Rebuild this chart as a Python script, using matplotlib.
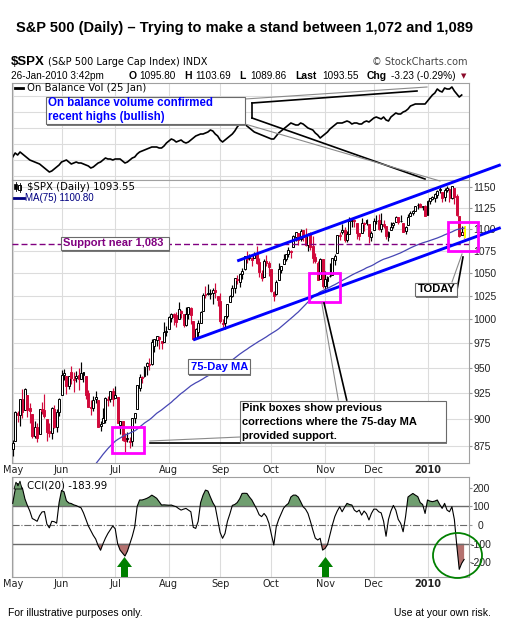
import numpy as np
import pandas as pd
import matplotlib
matplotlib.use("Agg")
import matplotlib.pyplot as plt
from matplotlib.patches import Rectangle, Ellipse, Polygon
from matplotlib.ticker import FixedLocator, NullLocator, NullFormatter

plt.rcParams['font.family'] = ['Liberation Sans', 'DejaVu Sans']

W, H = 506, 631

# ---------------------------------------------------------------- data
holidays = ['2009-05-25', '2009-07-03', '2009-09-07', '2009-11-26',
            '2009-12-25', '2010-01-01', '2010-01-18']
dates = pd.bdate_range('2009-05-01', '2010-01-26')
dates = dates[~dates.isin(pd.to_datetime(holidays))]

# closes Feb-Apr 2009 (only used to seed the 75-day moving average)
pre_closes = [825.44, 838.51, 832.23, 845.85, 868.60, 869.89, 827.16, 833.74, 835.19, 826.84,
              789.17, 788.42, 778.94, 770.05, 743.33, 773.14, 764.90, 752.83, 735.09,
              700.82, 696.33, 712.87, 682.55, 683.38, 676.53, 719.60, 721.36, 750.74, 756.55,
              753.89, 778.12, 794.35, 784.04, 768.54, 822.92, 806.12, 813.88, 832.86, 815.94,
              787.53, 797.87,
              811.08, 834.38, 842.50, 835.48, 815.55, 825.16, 856.56, 858.73, 841.50, 852.06,
              865.30, 869.60, 832.39, 850.08, 843.55, 851.92, 866.23, 857.51, 855.16, 873.64,
              872.81]

opens = [
    872.7, 879.2, 906.1, 903.8, 919.6, 909.0, 922.9, 910.5, 905.4, 884.2, 892.8, 886.1, 909.7, 908.6, 900.4, 888.7, 887.0, 909.9, 892.9, 907.0,
    923.3, 942.9, 942.5, 932.5, 945.7, 938.1, 940.4, 942.7, 939.0, 943.4, 942.5, 925.6, 911.9, 910.9, 919.9, 918.1, 893.5, 896.3, 899.5, 918.8, 919.9, 927.2,
    920.8, 921.2, 894.3, 898.6, 881.9, 881.3, 880.0, 879.6, 900.8, 910.2, 930.2, 940.6, 942.1, 952.0, 953.4, 954.1, 972.2, 978.6, 981.5, 977.7, 976.0, 986.8,
    990.2, 1001.4, 1005.4, 1004.1, 999.8, 1008.9, 1005.8, 994.0, 1005.9, 1012.2, 998.2, 980.6, 986.9, 996.4, 1009.1, 1026.6, 1026.6, 1027.4, 1027.8, 1031.6, 1025.2,
    1019.5, 996.1, 996.1, 1003.8, 1018.7, 1025.4, 1033.0, 1043.9, 1040.2, 1049.0, 1054.0, 1067.9, 1066.6, 1067.1, 1066.4, 1072.7, 1062.6, 1049.5, 1045.4, 1063.7, 1061.0,
    1054.9, 1029.7, 1026.9, 1042.0, 1053.7, 1060.0, 1065.3, 1071.6, 1075.0, 1078.7, 1090.4, 1094.7, 1088.2, 1098.6, 1090.4, 1081.0, 1095.6, 1080.4, 1067.5, 1061.5, 1043.0, 1065.4,
    1036.2, 1040.9, 1047.1, 1047.3, 1065.0, 1072.3, 1091.9, 1096.0, 1098.3, 1087.6, 1094.1, 1109.2, 1109.4, 1106.4, 1094.7, 1094.9, 1105.8, 1106.5, 1105.5, 1091.1,
    1098.9, 1109.0, 1110.6, 1100.4, 1105.5, 1103.0, 1091.1, 1098.7, 1104.0, 1107.8, 1114.1, 1108.6, 1106.4, 1097.9, 1105.0, 1114.5, 1118.8, 1121.1, 1127.5, 1128.6, 1125.5, 1126.6,
    1116.6, 1132.7, 1135.7, 1136.3, 1140.5, 1146.0, 1143.8, 1137.3, 1145.7, 1147.7, 1136.0, 1148.0, 1138.7, 1115.5, 1092.4, 1095.80]
highs = [
    880.5, 907.9, 907.7, 919.8, 929.6, 930.2, 922.9, 915.6, 905.4, 898.4, 896.7, 910.0, 916.4, 924.6, 900.4, 896.7, 911.8, 913.8, 909.5, 920.0,
    947.8, 949.4, 942.5, 942.5, 951.7, 946.3, 946.9, 949.8, 956.2, 946.3, 942.5, 928.0, 918.4, 921.9, 927.1, 918.1, 898.7, 910.8, 921.4, 922.0, 927.7, 930.0,
    931.9, 921.2, 898.7, 898.6, 886.8, 887.9, 883.6, 901.1, 905.8, 933.0, 943.9, 941.9, 951.6, 956.5, 959.8, 979.4, 979.8, 982.5, 982.3, 977.8, 996.7, 993.2,
    1003.6, 1007.1, 1006.6, 1008.0, 1018.0, 1010.1, 1005.8, 1012.8, 1013.1, 1012.6, 998.2, 991.2, 999.6, 1008.9, 1027.6, 1035.8, 1037.8, 1032.5, 1033.3, 1039.5, 1025.2,
    1028.5, 1000.3, 1003.4, 1016.5, 1026.1, 1036.3, 1044.1, 1048.2, 1049.7, 1056.0, 1068.8, 1074.8, 1071.5, 1067.3, 1073.8, 1080.2, 1066.3, 1053.5, 1065.1, 1069.6, 1063.4,
    1054.9, 1030.6, 1042.6, 1060.6, 1058.0, 1070.7, 1071.5, 1079.5, 1075.3, 1093.2, 1096.6, 1094.7, 1100.2, 1098.6, 1101.4, 1095.2, 1095.8, 1091.8, 1072.5, 1063.3, 1066.8, 1065.4,
    1052.2, 1046.4, 1061.0, 1066.7, 1071.5, 1093.2, 1096.1, 1105.4, 1102.0, 1097.6, 1113.7, 1110.4, 1111.1, 1106.4, 1094.7, 1112.4, 1107.6, 1111.2, 1105.5, 1097.2,
    1112.3, 1115.6, 1117.3, 1119.1, 1110.7, 1103.0, 1097.0, 1108.4, 1108.5, 1114.8, 1114.1, 1116.2, 1106.4, 1103.7, 1117.7, 1120.3, 1121.6, 1126.5, 1130.4, 1130.4, 1126.4, 1127.6,
    1133.9, 1136.6, 1139.2, 1142.5, 1145.4, 1149.7, 1143.8, 1148.4, 1150.4, 1147.8, 1150.5, 1148.0, 1141.6, 1115.5, 1103.0, 1103.69]
lows = [
    866.1, 879.2, 897.3, 893.2, 901.4, 909.0, 902.5, 896.8, 882.0, 882.5, 878.9, 886.1, 905.2, 901.4, 879.6, 883.8, 881.5, 891.9, 887.6, 903.6,
    923.3, 938.5, 923.9, 929.3, 934.1, 926.4, 936.2, 927.9, 939.0, 935.7, 919.7, 911.6, 903.8, 907.9, 915.8, 893.0, 888.9, 896.3, 896.3, 913.0, 916.2, 912.9,
    920.8, 896.4, 886.4, 879.9, 869.3, 878.4, 872.8, 875.3, 896.5, 910.2, 927.5, 934.9, 940.9, 943.2, 947.9, 953.3, 965.9, 972.3, 969.4, 968.7, 976.0, 982.9,
    990.2, 996.7, 994.3, 992.4, 999.8, 1001.0, 992.4, 993.4, 1000.8, 994.6, 978.5, 980.6, 980.6, 996.4, 1009.1, 1022.5, 1026.2, 1021.6, 1016.2, 1023.1, 1014.6,
    996.3, 992.0, 990.2, 1001.7, 1018.7, 1024.0, 1028.0, 1038.4, 1035.0, 1043.4, 1052.9, 1061.2, 1064.3, 1057.5, 1066.4, 1060.4, 1045.9, 1041.2, 1045.4, 1057.8, 1046.5,
    1029.5, 1020.0, 1025.9, 1042.0, 1050.1, 1060.0, 1063.0, 1067.6, 1066.7, 1078.7, 1086.4, 1081.5, 1086.5, 1086.2, 1080.8, 1074.3, 1075.5, 1061.5, 1060.6, 1042.2, 1043.0, 1033.4,
    1029.4, 1033.9, 1045.2, 1047.3, 1059.3, 1072.3, 1087.7, 1093.5, 1084.9, 1085.3, 1094.1, 1102.2, 1102.7, 1088.4, 1086.8, 1094.9, 1097.6, 1104.8, 1083.7, 1086.3,
    1098.9, 1105.3, 1098.7, 1096.5, 1100.8, 1088.6, 1085.9, 1098.7, 1101.3, 1107.8, 1105.4, 1108.0, 1095.9, 1093.9, 1105.0, 1114.5, 1116.0, 1121.1, 1123.5, 1126.1, 1121.9, 1114.8,
    1116.6, 1129.7, 1134.0, 1131.3, 1136.2, 1142.0, 1131.8, 1133.2, 1143.8, 1131.4, 1135.2, 1129.3, 1114.8, 1090.2, 1092.4, 1089.86]
closes = [
    877.52, 907.24, 903.80, 919.53, 907.39, 929.23, 909.24, 908.35, 883.92, 893.07, 882.88, 909.71, 908.13, 903.47, 888.33, 887.00, 910.33, 893.06, 906.83, 919.14,
    942.87, 944.74, 931.76, 942.46, 940.09, 939.14, 942.43, 939.15, 944.89, 946.21, 923.72, 911.97, 910.71, 918.37, 921.23, 893.04, 895.10, 900.94, 920.26, 918.90, 927.23, 919.32,
    923.33, 896.42, 898.72, 881.03, 879.56, 882.68, 879.13, 901.05, 905.84, 932.68, 940.74, 940.38, 951.13, 954.58, 954.07, 976.29, 979.26, 982.18, 979.62, 975.15, 986.75, 987.48,
    1002.63, 1005.65, 1002.72, 997.08, 1010.48, 1007.10, 994.35, 1005.81, 1012.73, 1004.09, 979.73, 989.67, 996.46, 1007.37, 1026.13, 1025.57, 1028.00, 1028.12, 1030.98, 1028.93, 1020.62,
    998.04, 994.75, 1003.24, 1016.40, 1025.39, 1033.37, 1044.14, 1042.73, 1049.34, 1052.63, 1068.76, 1065.49, 1068.30, 1064.66, 1071.66, 1060.87, 1050.78, 1044.38, 1062.98, 1060.61, 1057.08,
    1029.85, 1025.21, 1040.46, 1054.72, 1057.58, 1065.48, 1071.49, 1076.19, 1073.19, 1092.02, 1096.56, 1087.68, 1097.91, 1091.06, 1081.40, 1092.91, 1079.60, 1066.95, 1063.41, 1042.63, 1066.11, 1036.19,
    1042.88, 1045.41, 1046.50, 1066.63, 1069.30, 1093.08, 1093.01, 1098.51, 1087.24, 1093.48, 1109.30, 1110.32, 1109.80, 1094.90, 1091.38, 1106.24, 1105.65, 1110.63, 1091.49, 1095.63,
    1108.86, 1109.24, 1099.92, 1105.98, 1103.25, 1091.94, 1095.95, 1102.35, 1106.41, 1114.11, 1107.93, 1109.18, 1096.08, 1102.47, 1114.05, 1118.02, 1120.59, 1126.48, 1127.78, 1126.20, 1126.42, 1115.10,
    1132.99, 1136.52, 1137.14, 1141.69, 1144.98, 1146.98, 1136.22, 1145.68, 1148.46, 1136.03, 1150.23, 1138.04, 1116.48, 1091.76, 1096.78, 1093.55]

# On Balance Volume (relative units, through 25 Jan)
obv = [22, 26, 24, 27, 25, 23, 21, 19, 18, 17,
       16, 15, 13, 11, 9, 7, 8, 10, 12, 14,
       17, 18, 19, 17, 15, 16, 17, 16, 16, 15,
       14, 13, 11, 12, 14, 16, 17, 19, 21, 20,
       20, 19, 20, 20, 20, 18, 16, 17, 19, 21,
       22, 25, 27, 28, 29, 30, 31, 32, 32, 32,
       31, 31, 33, 36, 38, 40, 39, 37, 38, 39,
       37, 36, 37, 39, 41, 43, 44, 45, 45, 46,
       47, 49, 48, 45, 43, 39, 37, 39, 41, 43,
       45, 48, 52, 55, 57, 55, 53, 51, 49, 47,
       46, 45, 44, 43, 42, 41, 40, 40, 43, 46,
       48, 50, 52, 54, 56, 55, 54, 54, 56, 55,
       53, 51, 50, 49, 46, 44, 41, 43, 45, 47,
       50, 52, 54, 56, 56, 56, 57, 58, 57, 55,
       56, 56, 55, 55, 57, 58, 57, 59, 61, 62,
       61, 60, 62, 59, 58, 62, 64, 66, 65, 65,
       67, 68, 70, 73, 74, 75, 75, 75, 75, 75,
       78, 81, 84, 86, 90, 88, 87, 91, 90, 90,
       92, 88, 85, 82, 84]

cci = [116, 190, 222, 214, 196, 140, 105, 75, 35, 28,
       20, 50, 70, 72, 5, -15, 20, 18, 10, 120,
       185, 178, 130, 118, 115, 108, 104, 98, 92, 65,
       30, -5, -30, -55, -75, -110, -135, -100, -70, -45,
       -25, -5, -20, -100, -134, -150, -166, -140, -100, -60,
       -10, 100, 134, 134, 138, 143, 150, 160, 152, 143,
       125, 107, 108, 107, 106, 107, 102, 98, 88, 80,
       85, 89, 80, 71, -12, -18, 20, 120, 160, 187,
       182, 150, 120, 98, 30, -40, -71, -45, 20, 60,
       105, 110, 120, 140, 169, 170, 169, 150, 134, 110,
       85, 55, 45, 62, 45, 10, -50, -107, -9, 30,
       60, 90, 105, 116, 150, 160, 160, 150, 125, 98,
       85, 62, 20, -27, -70, -80, -71, -134, -125, -105,
       -53, 0, 45, 75, 98, 71, 95, 116, 110, 107,
       80, 70, 80, 53, 75, 60, 27, 62, 85, 85,
       71, 65, 20, -60, 30, 75, 105, 80, 30, 9,
       -36, 45, 150, 160, 169, 160, 152, 120, 110, 62,
       134, 128, 125, 128, 134, 110, 89, 116, 80, 71,
       98, 30, -110, -237, -205, -183.99]

price_ticks = [875, 900, 925, 950, 975, 1000, 1025, 1050, 1075, 1100, 1125, 1150]
cci_ticks = [200, 100, 0, -100, -200]
cci_bands = [100, -100]
support = 1083
ma_period = 75
ma_last_label = "1100.80"
lower_anchors = [('2009-08-17', 978.5), ('2009-11-02', 1029.4)]
upper_start = ('2009-09-11', 1063.4)
pink_boxes = [('2009-06-30', 13.4, 868.8, 893.1),
              ('2009-10-23', 12.8, 1018.7, 1049.8),
              ('2010-01-15', 12.2, 1075.0, 1107.7)]

# ---------------------------------------------------------------- figure
fig = plt.figure(figsize=(W / 100, H / 100), dpi=100)
fig.patch.set_facecolor('white')


def panel(top, bottom):
    return fig.add_axes([12 / W, 1 - bottom / H, (469 - 12) / W, (bottom - top) / H])


ax_obv = panel(83, 180)
ax_px = panel(180, 463)
ax_cci = panel(477, 577)

x = np.arange(len(closes))
o = np.array(opens); hi = np.array(highs); lo = np.array(lows); c = np.array(closes)
month_start = [i for i in range(len(dates)) if i == 0 or dates[i].month != dates[i - 1].month]
month_lbl = [str(dates[i].year) if dates[i].month == 1 else dates[i].strftime('%b') for i in month_start]

GRID = '#dcdcdc'
for a in (ax_obv, ax_px, ax_cci):
    a.set_xlim(-0.3, 187.0)
    a.set_xticks(month_start)
    a.grid(axis='x', color=GRID, lw=0.8)
    a.set_axisbelow(True)
    for s in a.spines.values():
        s.set_color('#a0a0a0')
        s.set_linewidth(0.8)
    a.tick_params(axis='x', length=0, labelbottom=False)

for a in (ax_px, ax_cci):
    a.tick_params(axis='x', labelbottom=True, pad=1.5, labelsize=7)
    a.set_xticklabels(month_lbl)
    for t in a.get_xticklabels():
        t.set_family('DejaVu Sans')
        t.set_color('#222222')
        if t.get_text().isdigit():
            t.set_fontweight('bold')

# ---- OBV panel
ax_obv.plot(x[:len(obv)], obv, color='black', lw=1.2)
ax_obv.set_ylim(-1, 96)
ax_obv.yaxis.set_major_locator(FixedLocator([3, 19, 35, 51, 67, 83]))
ax_obv.tick_params(axis='y', length=0, labelleft=False, labelright=False)
ax_obv.grid(axis='y', color=GRID, lw=0.8)

# ---- price panel
RED = '#d10a3c'
prev = np.r_[pre_closes[-1], c[:-1]]
for i in x:
    col = 'black' if c[i] >= prev[i] else RED
    ax_px.vlines(i, lo[i], hi[i], color=col, lw=0.85, zorder=2.6)
    b0, b1 = min(o[i], c[i]), max(o[i], c[i])
    if b1 - b0 < 0.7:
        b1 = b0 + 0.7
    ax_px.add_patch(Rectangle((i - 0.4, b0), 0.8, b1 - b0,
                              facecolor=col if c[i] < o[i] else 'white',
                              edgecolor=col, lw=0.7, zorder=2.7))
# highlight today's bar
ax_px.add_patch(Rectangle((x[-1] - 0.1, lo[-1]), 0.9, hi[-1] - lo[-1],
                          facecolor='#ffff00', edgecolor='none', zorder=2.8, clip_on=False))

ma = pd.Series(pre_closes + closes).rolling(ma_period).mean().to_numpy()[len(pre_closes):]
ax_px.plot(x, ma, color='#4646b4', lw=0.9, zorder=3)

ax_px.set_yscale('log')
ax_px.set_ylim(859.5, 1158.1)
ax_px.yaxis.set_major_locator(FixedLocator(price_ticks))
ax_px.yaxis.set_minor_locator(NullLocator())
ax_px.yaxis.set_minor_formatter(NullFormatter())
ax_px.set_yticklabels([str(t) for t in price_ticks])
ax_px.yaxis.tick_right()
ax_px.tick_params(axis='y', length=2, pad=1.2, labelsize=7.5, color='#999999', labelcolor='#222222')
ax_px.grid(axis='y', color=GRID, lw=0.8)

ax_px.axhline(support, color='#800080', lw=1.0, ls=(0, (4.3, 2.2)), zorder=3.2)

# trend channel
i1 = dates.get_loc(pd.Timestamp(lower_anchors[0][0]))
i2 = dates.get_loc(pd.Timestamp(lower_anchors[1][0]))
slope = np.log(lower_anchors[1][1] / lower_anchors[0][1]) / (i2 - i1)
x_end = len(closes) - 1 + 15
xs = np.array([i1, x_end])
ax_px.plot(xs, lower_anchors[0][1] * np.exp(slope * (xs - i1)), color='#0000ff', lw=2.1,
           zorder=4, clip_on=False, solid_capstyle='butt')
iu = dates.get_loc(pd.Timestamp(upper_start[0]))
xs = np.array([iu, x_end])
ax_px.plot(xs, upper_start[1] * np.exp(slope * (xs - iu)), color='#0000ff', lw=2.1,
           zorder=4, clip_on=False, solid_capstyle='butt')

for d, w, p0, p1 in pink_boxes:
    i0 = dates.get_loc(pd.Timestamp(d)) - 0.5
    ax_px.add_patch(Rectangle((i0, p0), w, p1 - p0, fill=False, edgecolor='#ff00ff',
                              lw=2.0, zorder=5, clip_on=False))

# ---- CCI panel
cc = np.array(cci, dtype=float)
ax_cci.fill_between(x, cc, cci_bands[0], where=cc >= cci_bands[0], interpolate=True,
                    color='#6f9e6f', lw=0, zorder=2)
ax_cci.fill_between(x, cc, cci_bands[1], where=cc <= cci_bands[1], interpolate=True,
                    color='#b4716f', lw=0, zorder=2)
for b in cci_bands:
    ax_cci.axhline(b, color='#6a6a6a', lw=1.0, zorder=2.2)
ax_cci.axhline(0, color='#6a6a6a', lw=0.8, ls='-.', zorder=2.2)
ax_cci.plot(x, cc, color='black', lw=0.8, zorder=3)
ax_cci.set_ylim(-278, 257)
ax_cci.yaxis.set_major_locator(FixedLocator(cci_ticks))
ax_cci.yaxis.tick_right()
ax_cci.set_yticklabels([str(t) for t in cci_ticks])
ax_cci.tick_params(axis='y', length=2, pad=6.5, labelsize=7.5, color='#999999', labelcolor='#222222')
for t in ax_cci.get_yticklabels():
    t.set_horizontalalignment('center')

# ---------------------------------------------------------------- overlay (pixel coords)
ov = fig.add_axes([0, 0, 1, 1], zorder=10)
ov.set_xlim(0, W)
ov.set_ylim(H, 0)
ov.set_facecolor('none')
ov.axis('off')

ov.text(16, 28, 'S&P 500 (Daily) \u2013 Trying to make a stand between 1,072 and 1,089',
        fontsize=10.5, fontweight='bold', va='center', ha='left')

ov.text(11, 62, r'\$SPX', fontsize=9.5, fontweight='bold', va='center')
ov.text(48, 62, '(S&P 500 Large Cap Index) INDX', fontsize=7, family='DejaVu Sans', va='center')
ov.text(468, 62, '\u00a9 StockCharts.com', fontsize=7, family='DejaVu Sans', color='#444444',
        ha='right', va='center')

chg = closes[-1] - closes[-2]
pct = chg / closes[-2] * 100
segs = [(11, '26-Jan-2010 3:42pm', 'normal'),
        (129, 'O', 'bold'), (139, f'{opens[-1]:.2f}', 'normal'),
        (184, 'H', 'bold'), (195, f'{highs[-1]:.2f}', 'normal'),
        (239, 'L', 'bold'), (250, f'{lows[-1]:.2f}', 'normal'),
        (295, 'Last', 'bold'), (322, f'{closes[-1]:.2f}', 'normal'),
        (367, 'Chg', 'bold'), (391, f'{chg:.2f} ({pct:.2f}%)', 'normal')]
for sx, s, fw in segs:
    ov.text(sx, 76, s, fontsize=7.5 if fw == 'bold' else 7.2, fontweight=fw, va='center', ha='left')
ov.text(464, 76, '\u25bc', fontsize=5, family='DejaVu Sans', color='#8b0a2a', va='center', ha='center')

# panel legends
ov.plot([15, 23], [88, 88], color='black', lw=2)
ov.text(27, 88, 'On Balance Vol (25 Jan)', fontsize=7.3, family='DejaVu Sans', va='center')
ov.add_patch(Rectangle((14.5, 183.5), 2.2, 5.5, facecolor='black', edgecolor='black', lw=0.5))
ov.add_patch(Rectangle((18.5, 184.5), 2.2, 5.5, facecolor='white', edgecolor='black', lw=0.7))
ov.plot([15.6, 15.6], [182, 191], color='black', lw=0.6)
ov.plot([19.6, 19.6], [183, 192], color='black', lw=0.6)
ov.text(27, 187, r'\$SPX (Daily) ' + f'{closes[-1]:.2f}', fontsize=7.3, family='DejaVu Sans', va='center')
ov.plot([14, 24], [198, 198], color='#000080', lw=2)
ov.text(25, 198, f'MA({ma_period}) {ma_last_label}', fontsize=7.0, color='#000080', va='center')
ov.add_patch(Polygon([[14, 489], [16, 482], [18, 486], [20, 481], [22, 489]],
                     facecolor='#6f9e6f', edgecolor='black', lw=0.6))
ov.text(27, 485, f'CCI(20) {cci[-1]:.2f}', fontsize=7.3, family='DejaVu Sans', va='center')


def note_box(x0, y0, x1, y1):
    ov.add_patch(Rectangle((x0 + 1.5, y0 + 1.5), x1 - x0, y1 - y0, facecolor='#7a7a7a',
                           edgecolor='none', zorder=1))
    ov.add_patch(Rectangle((x0, y0), x1 - x0, y1 - y0, facecolor='white', edgecolor='#6a6a6a',
                           lw=0.8, zorder=2))


def callout(p0, p1, dark=True):
    ov.plot([p0[0], p1[0]], [p0[1], p1[1]], color='black' if dark else '#8a8a8a',
            lw=1.2 if dark else 0.8, zorder=0.5)


# OBV note + callouts
callout((245, 99), (427, 87), False)
callout((252, 103), (417, 91))
callout((252, 103), (252, 118))
callout((252, 118), (425, 179))
callout((245, 124), (440, 181), False)
note_box(46, 97, 245, 124)
ov.text(48, 103.5, 'On balance volume confirmed', fontsize=8.3, fontweight='bold',
        color='#0000ff', va='center', zorder=3)
ov.text(48, 117, 'recent highs (bullish)', fontsize=8.3, fontweight='bold',
        color='#0000ff', va='center', zorder=3)

# support note
note_box(61, 237, 169, 250)
ov.text(63, 243.5, f'Support near {support:,}', fontsize=8, fontweight='bold',
        color='#800080', va='center', zorder=3)

# MA note
note_box(188, 359, 250, 374)
ov.text(191, 366.5, '75-Day MA', fontsize=8, fontweight='bold', color='#0000ff',
        va='center', zorder=3)

# TODAY note
callout((452, 282), (462, 254), False)
callout((457, 290), (463, 257))
note_box(415, 283, 457, 296)
ov.text(417.5, 289.5, 'TODAY', fontsize=8, fontweight='bold', color='black', va='center', zorder=3)

# pink-box note
callout((150, 441), (240, 437), False)
callout((150, 442.5), (240, 442.5))
callout((321.7, 302.7), (338.3, 400), False)
callout((324, 303), (346.7, 400))
note_box(240, 401, 446, 442)
for k, line in enumerate(['Pink boxes show previous', 'corrections where the 75-day MA',
                          'provided support.']):
    ov.text(242, 407.7 + 14 * k, line, fontsize=8, fontweight='bold', color='black',
            va='center', zorder=3)

# green arrows in CCI panel
for cx in (124.5, 325.5):
    ov.add_patch(Polygon([[cx - 7.5, 567], [cx, 557], [cx + 7.5, 567], [cx + 3.5, 567],
                          [cx + 3.5, 577], [cx - 3.5, 577], [cx - 3.5, 567]],
                         facecolor='#008000', edgecolor='none', zorder=3))
ov.add_patch(Ellipse((457.5, 555.5), 49, 45, fill=False, edgecolor='#008000', lw=1.3, zorder=3))

# footer
ov.text(8, 613, 'For illustrative purposes only.', fontsize=7.5, va='center', ha='left')
ov.text(491, 613, 'Use at your own risk.', fontsize=7.5, va='center', ha='right')

fig.savefig('out.png', dpi=100, facecolor='white')
